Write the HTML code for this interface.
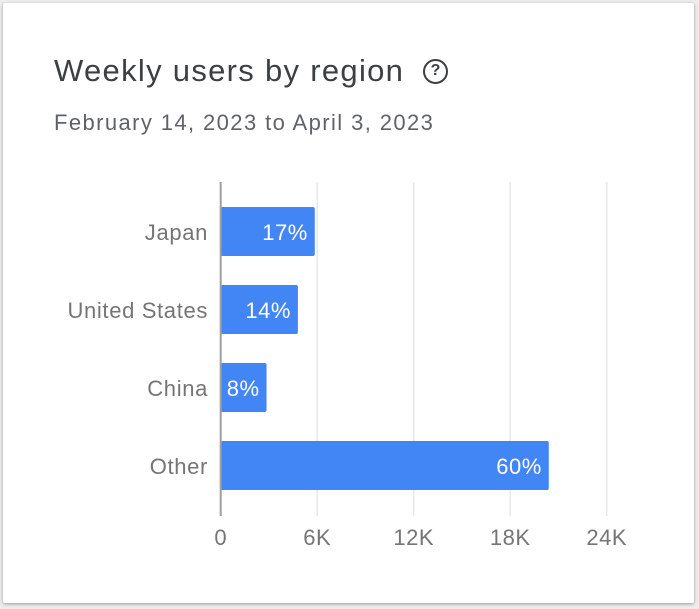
<!DOCTYPE html>
<html><head><meta charset="utf-8"><style>
html,body{margin:0;padding:0;background:#ececec;width:699px;height:609px;overflow:hidden;font-family:"Liberation Sans",sans-serif}
#card{position:absolute;left:3px;top:3px;width:691px;height:600px;background:#fff;box-shadow:0 1px 3px rgba(0,0,0,.35);border-radius:2px}
#title{position:absolute;left:54px;top:53px;font-size:31px;letter-spacing:1.3px;color:#3c4043;white-space:nowrap}
#help{position:absolute;left:423px;top:59px;width:25px;height:25px;border:2.5px solid #3c4043;border-radius:50%;box-sizing:border-box;font-size:16px;font-weight:bold;color:#3c4043;text-align:center;line-height:20px}
#sub{position:absolute;left:54px;top:110px;font-size:22px;letter-spacing:1.4px;color:#5f6368;white-space:nowrap}
svg{position:absolute;left:0;top:0}
</style></head><body>
<div id="card"></div>
<div id="title">Weekly users by region</div>
<div id="help">?</div>
<div id="sub">February 14, 2023 to April 3, 2023</div>
<svg id="chart" width="699" height="609"></svg>
<script>
const categories=["Japan","United States","China","Other"];
const values=[5.85,4.8,2.85,20.4];
const percents=["17%","14%","8%","60%"];
const ticks=[0,6,12,18,24];
const tickLabels=["0","6K","12K","18K","24K"];
const NS="http://www.w3.org/2000/svg";
const svg=document.getElementById('chart');
const x0=220.7,pxPer=96.5/6;
const xs=v=>x0+v*pxPer;
const ys=i=>207+i*78;
function mk(t,a){const e=document.createElementNS(NS,t);for(const k in a)e.setAttribute(k,a[k]);svg.appendChild(e);return e;}
ticks.forEach((t,i)=>{
  if(i>0){const g=mk('line',{x1:xs(t),x2:xs(t),y1:182,y2:516,stroke:'#e8e8e8','stroke-width':1.5});
  
  }
  const l=mk('text',{x:xs(t),y:545,'text-anchor':'middle','font-size':22,'letter-spacing':0.5,fill:'#757575'});
  l.textContent=tickLabels[i];
  
  
});
categories.forEach((c,i)=>{
  const y=ys(i);
  const b=mk('rect',{x:x0,y:y,width:xs(values[i])-x0,height:49,rx:2,fill:'#4285f4'});
  
  
  const p=mk('text',{x:xs(values[i])-7,y:y+33,'text-anchor':'end','font-size':22,'letter-spacing':0.5,fill:'#fff'});
  p.textContent=percents[i];
  
  
  const l=mk('text',{x:208,y:y+33,'text-anchor':'end','font-size':22,'letter-spacing':0.65,fill:'#757575'});
  l.textContent=c;
  
  
});
const ax=mk('line',{x1:x0,x2:x0,y1:182,y2:516,stroke:'#9e9e9e','stroke-width':2});


</script>
</body></html>
